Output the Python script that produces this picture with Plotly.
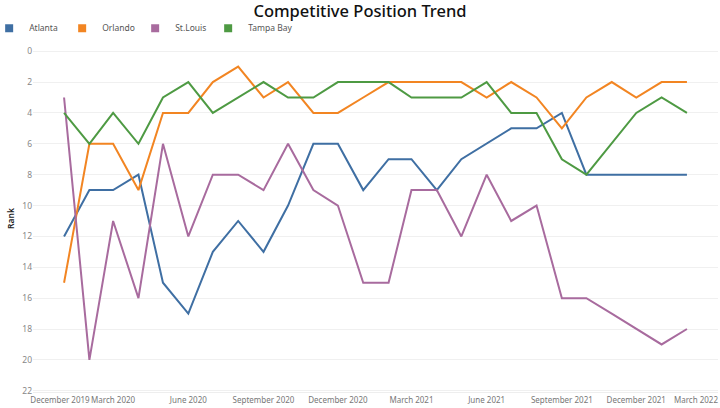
import plotly.graph_objects as go

months = ["2020-01-01", "2020-02-01", "2020-03-01", "2020-04-01", "2020-05-01", "2020-06-01",
          "2020-07-01", "2020-08-01", "2020-09-01", "2020-10-01", "2020-11-01", "2020-12-01",
          "2021-01-01", "2021-02-01", "2021-03-01", "2021-04-01", "2021-05-01", "2021-06-01",
          "2021-07-01", "2021-08-01", "2021-09-01", "2021-10-01", "2021-11-01", "2021-12-01",
          "2022-01-01", "2022-02-01"]

atlanta = [12, 9, 9, 8, 15, 17, 13, 11, 13, 10, 6, 6, 9, 7, 7, 9, 7, 6, 5, 5, 4, 8, 8, 8, 8, 8]
orlando = [15, 6, 6, 9, 4, 4, 2, 1, 3, 2, 4, 4, 3, 2, 2, 2, 2, 3, 2, 3, 5, 3, 2, 3, 2, 2]
st_louis = [3, 20, 11, 16, 6, 12, 8, 8, 9, 6, 9, 10, 15, 15, 9, 9, 12, 8, 11, 10, 16, 16, 17, 18, 19, 18]
tampa_bay = [4, 6, 4, 6, 3, 2, 4, 3, 2, 3, 3, 2, 2, 2, 3, 3, 3, 2, 4, 4, 7, 8, 6, 4, 3, 4]

series_names = ["Atlanta", "Orlando", "St.Louis", "Tampa Bay"]
series_values = [atlanta, orlando, st_louis, tampa_bay]
colors = ["#3f6fa3", "#f28522", "#a86b9e", "#4e9a43"]

tick_dates = ["2019-12-27", "2020-03-01", "2020-06-01", "2020-09-01", "2020-12-01",
              "2021-03-01", "2021-06-01", "2021-09-01", "2021-12-01", "2022-02-12"]
tick_labels = ["December 2019", "March 2020", "June 2020", "September 2020", "December 2020",
               "March 2021", "June 2021", "September 2021", "December 2021", "March 2022"]
y_ticks = list(range(0, 23, 2))

fig = go.Figure()
for i, (name, vals, col) in enumerate(zip(series_names, series_values, colors)):
    fig.add_trace(go.Scatter(x=months, y=vals, mode="lines", name=name,
                             line=dict(color=col, width=2), showlegend=False))
    fig.add_trace(go.Scatter(x=[None], y=[None], mode="markers", name=name,
                             marker=dict(symbol="square", size=8, color=col, line=dict(width=0)),
                             legendwidth=28 if i < len(series_names) - 1 else 50,
                             showlegend=True))

fig.update_layout(
    width=720, height=408,
    margin=dict(l=33, r=2, t=45, b=16, autoexpand=False),
    paper_bgcolor="white", plot_bgcolor="white",
    font=dict(family="Noto Sans", size=8, color="#777777"),
    title=dict(text="Competitive Position Trend", x=0.5, xref="container", xanchor="center",
               yref="container", y=0.973, yanchor="middle",
               font=dict(family="Noto Sans", size=16.5, color="#111111", weight=500)),
    legend=dict(orientation="h", xref="paper", x=-0.064, xanchor="left",
                yref="container", y=0.931, yanchor="middle",
                font=dict(size=8.5, color="#555555"),
                itemwidth=30, bgcolor="rgba(0,0,0,0)"),
    showlegend=True,
    xaxis=dict(type="date", range=["2019-11-24", "2022-03-11"], tickmode="array",
               tickvals=tick_dates, ticktext=tick_labels, showgrid=False, tickangle=0,
               showline=True, linecolor="#eeeeee", linewidth=1, ticks="", automargin=False,
               tickfont=dict(size=8, color="#777777"), zeroline=False),
    yaxis=dict(range=[22.08, -0.4], tickmode="array", tickvals=y_ticks, automargin=False,
               showgrid=True, gridcolor="#f0f0f0", gridwidth=1, zeroline=False,
               ticks="", tickfont=dict(size=8.5, color="#888888"),
               title=dict(text="Rank", standoff=6, font=dict(size=8.5, color="#222222", weight=600))),
)

fig.write_html("out.html", config={"displayModeBar": False},
               post_script="document.body.style.margin='0';document.body.style.overflow='hidden';")
